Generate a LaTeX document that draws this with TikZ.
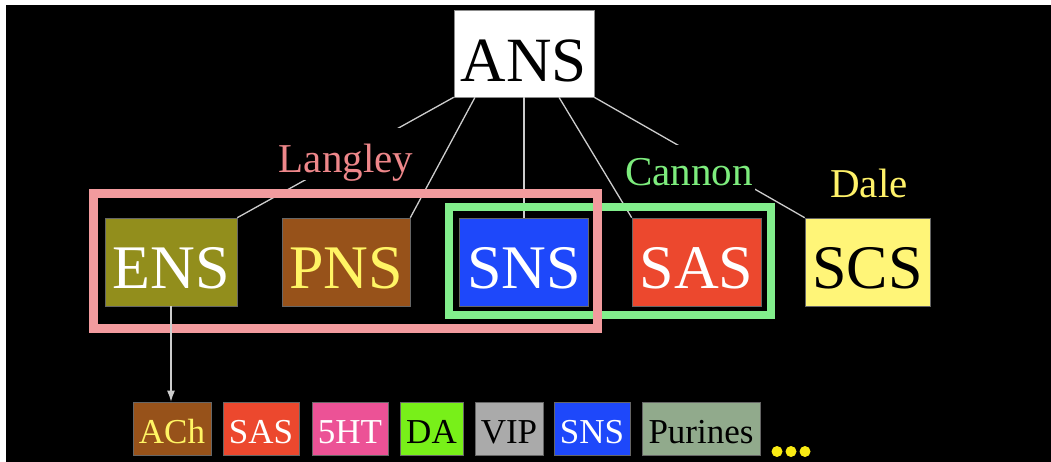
\documentclass[tikz,border=0pt]{standalone}
\usepackage{fontspec}
\setmainfont{Liberation Serif}
\usetikzlibrary{arrows.meta}
\definecolor{ensc}{RGB}{146,142,28}
\definecolor{pnsc}{RGB}{151,82,26}
\definecolor{snsc}{RGB}{30,72,250}
\definecolor{sasc}{RGB}{236,72,46}
\definecolor{scsc}{RGB}{255,245,120}
\definecolor{htc}{RGB}{236,82,150}
\definecolor{dac}{RGB}{120,240,25}
\definecolor{vipc}{RGB}{170,170,170}
\definecolor{purc}{RGB}{145,170,140}
\definecolor{pinkframe}{RGB}{242,155,158}
\definecolor{greenframe}{RGB}{130,238,140}
\definecolor{langleyc}{RGB}{238,135,138}
\definecolor{cannonc}{RGB}{125,236,125}
\definecolor{dalec}{RGB}{255,242,105}
\definecolor{yellowtxt}{RGB}{255,245,100}
\definecolor{dotc}{RGB}{250,235,20}
\definecolor{linec}{RGB}{205,205,205}
\begin{document}
\begin{tikzpicture}[x=1pt,y=-1pt,
  topbox/.style={inner sep=0pt, minimum height=88pt, text height=70pt, text depth=18pt,
     font=\fontsize{62}{62}\selectfont, draw=black!60, line width=0.6pt},
  botbox/.style={inner sep=0pt, minimum height=53pt, text height=41pt, text depth=12pt,
     font=\fontsize{35}{35}\selectfont, draw=black!60, line width=0.6pt},
  lbl/.style={inner sep=0pt, fill=black, font=\fontsize{41}{41}\selectfont},
  conn/.style={draw=linec, line width=1.3pt},
  frame/.style={draw, inner sep=0pt, line width=8.5pt}]
\useasboundingbox (0,0) rectangle (1051,462);
\fill[white] (0,0) rectangle (1051,462);
\fill[black] (6,5) rectangle (1051,462);

% top node
\node[inner sep=0pt, minimum width=140pt, minimum height=87pt, text height=72pt, text depth=15pt,
      fill=white, draw=black!45, line width=0.6pt, font=\fontsize{63}{63}\selectfont]
      (ANS) at (524,53.5) {ANS};

% middle row
\node[topbox, fill=ensc, text=white, minimum width=132pt] (ENS) at (171,262) {ENS};
\node[topbox, fill=pnsc, text=yellowtxt, minimum width=128pt] (PNS) at (346,262) {PNS};
\node[topbox, fill=snsc, text=white, minimum width=129pt] (SNS) at (524,262) {SNS};
\node[topbox, fill=sasc, text=white, minimum width=129pt] (SAS) at (696.5,262) {SAS};
\node[topbox, fill=scsc, text=black, minimum width=125pt] (SCS) at (867.5,262) {SCS};

% connectors from ANS
\draw[conn] (ANS.south west) -- (ENS.north east);
\draw[conn] ([xshift=-49pt]ANS.south) -- (PNS.north east);
\draw[conn] (ANS.south) -- (SNS.north);
\draw[conn] ([xshift=35pt]ANS.south) -- (SAS.north west);
\draw[conn] (ANS.south east) -- (SCS.north west);

% frames
\node[frame, draw=greenframe, minimum width=322pt, minimum height=108pt] (cannonframe) at (610,261) {};
\node[frame, draw=pinkframe, minimum width=504pt, minimum height=135pt] (langleyframe) at (345.5,261) {};

% labels
\node[lbl, text=langleyc, minimum width=142pt, text height=45pt, text depth=7pt] (langley) at (346,154) {Langley};
\node[lbl, text=cannonc, minimum width=132pt, text height=41pt, text depth=8pt] (cannon) at (689,169.5) {Cannon};
\node[lbl, text=dalec, anchor=base] (dale) at (869,198) {Dale};

% bottom row
\node[botbox, fill=pnsc, text=yellowtxt, minimum width=78pt] (ACh) at (172,428.5) {ACh};
\node[botbox, fill=sasc, text=white, minimum width=76pt] (SAS2) at (261,428.5) {SAS};
\node[botbox, fill=htc, text=white, minimum width=76pt] (HT) at (350,428.5) {5HT};
\node[botbox, fill=dac, text=black, minimum width=63pt] (DA) at (431.5,428.5) {DA};
\node[botbox, fill=vipc, text=black, minimum width=68pt] (VIP) at (509,428.5) {VIP};
\node[botbox, fill=snsc, text=white, minimum width=76pt] (SNS2) at (592,428.5) {SNS};
\node[botbox, fill=purc, text=black, minimum width=118pt] (PUR) at (701,428.5) {Purines};

\fill[dotc] (777,451.5) circle (5.5pt) (791,451.5) circle (5.5pt) (805,451.5) circle (5.5pt);

% arrow
\draw[conn, -{Latex[length=11pt,width=8pt]}] (ENS.south) -- (ENS.south |- ACh.north);
\end{tikzpicture}
\end{document}
